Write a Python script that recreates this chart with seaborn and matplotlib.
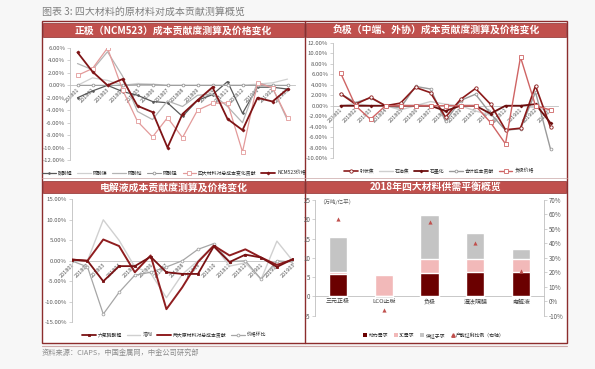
import numpy as np
import pandas as pd
import matplotlib
matplotlib.use('Agg')
import matplotlib.pyplot as plt
import seaborn as sns
from matplotlib.patches import Rectangle, Patch
from matplotlib.lines import Line2D

# ---------------- data ----------------
months = ['201801', '201802', '201803', '201804', '201805', '201806', '201807', '201808',
          '201809', '201810', '201811', '201812', '201901', '201902', '201903']

# panel 1: cathode NCM523 (%)
p1_li2co3 = [-2.0, -0.9, 0.0, -1.0, -1.6, -2.6, -2.8, -5.0, -2.4, -1.5, 0.6, -4.5, -0.3, -0.3, -0.6]
p1_niso4 = [0.0, 1.2, 0.8, 0.0, 0.3, 0.2, 0.0, 0.0, 0.0, 0.0, 0.0, 0.0, 0.2, 0.4, 1.0]
p1_coso4 = [3.5, 2.5, 5.4, 1.5, -4.2, -5.5, -2.5, -3.4, -1.6, -1.4, -3.4, -6.0, 0.5, -0.4, -5.6]
p1_mnso4 = [0.0, 0.0, 0.0, 0.0, 0.1, 0.1, 0.0, 0.0, 0.0, 0.0, 0.0, 0.0, 0.0, 0.0, 0.0]
p1_total = [1.6, 2.7, 6.0, -0.7, -5.8, -8.3, -5.2, -8.4, -4.0, -2.9, -2.8, -10.7, 0.4, -0.4, -5.3]
p1_price = [5.3, 2.2, 0.0, 1.0, -3.3, -4.3, -10.0, -4.6, -2.4, -0.3, -5.4, -7.2, -2.0, -2.6, -0.6]

# panel 2: anode (%)
p2_needle = [2.3, 0.3, 1.6, 0.0, 0.5, 3.5, 2.5, -2.2, 1.2, 3.3, 0.3, -4.6, -4.3, 3.8, -4.1]
p2_petro = [0.0, 0.4, 0.0, 0.0, -0.8, 0.0, 0.8, 0.3, 0.0, -1.0, -1.8, 0.0, 0.0, -0.4, -1.0]
p2_graph = [0.0, 0.0, 0.0, 0.0, 0.0, 0.0, 0.0, -1.0, 0.0, 0.0, -1.5, 0.0, 0.0, 0.3, -3.3]
p2_total = [2.3, 0.6, 1.5, 0.0, -0.4, 3.7, 3.2, -3.0, 1.0, 2.2, -1.5, -4.7, -4.4, 2.6, -8.3]
p2_price = [6.3, 0.0, -2.6, 0.0, 0.0, 0.0, 0.0, 0.0, 0.0, 0.0, -3.2, -7.3, 9.3, 0.0, -0.8]

# panel 3: electrolyte (%)
p3_lipf6 = [0.3, 0.0, -5.0, -1.3, -1.3, 1.0, -2.8, -3.2, -3.2, 3.5, -0.3, 1.5, 0.8, -1.5, 0.4]
p3_solvent = [0.0, 0.0, 10.0, 5.0, -1.5, -3.0, -9.0, -3.3, 0.0, 3.8, -1.3, -0.5, -4.5, 4.8, 0.0]
p3_total = [0.3, 0.0, 5.2, 3.6, -2.8, 1.3, -11.8, -6.5, -0.3, 3.7, 1.3, 2.8, 0.8, -1.0, 0.3]
p3_price = [0.0, -1.5, -13.0, -7.7, -3.5, -2.8, -1.5, 0.0, 2.8, 4.2, -0.2, 0.0, -4.5, 0.0, -0.3]

# panel 4: 2018 supply / demand balance
cats = ['三元正极', 'LCO正极', '负极', '湿法隔膜', '电解液']
demand_ev = [5.8, 0.0, 6.2, 6.4, 6.4]
demand_3c = [0.6, 5.5, 3.4, 3.35, 3.3]
oversupply = [9.0, -0.3, 11.4, 6.75, 2.5]
over_ratio = [57, -6, 54.5, 40, 21]

# ---------------- style ----------------
sns.set_theme(style='white')
plt.rcParams['font.family'] = ['Noto Sans CJK SC', 'DejaVu Sans']
plt.rcParams['axes.unicode_minus'] = False

W, H = 595, 369
fig = plt.figure(figsize=(W / 100, H / 100), dpi=100)
fig.patch.set_facecolor('#f7f7f7')

FRAME = '#8c2d2d'
HEAD = '#c0504d'
DARK = '#7f1416'
TICKC = '#595959'
AXC = '#bfbfbf'


def add_ax(x0, y0, x1, y1):
    return fig.add_axes([x0 / W, 1 - y1 / H, (x1 - x0) / W, (y1 - y0) / H])


# background / frame
bg = add_ax(0, 0, W, H)
bg.set_xlim(0, W)
bg.set_ylim(H, 0)
bg.axis('off')
bg.add_patch(Rectangle((42, 21), 525, 322, fc='white', ec=FRAME, lw=1.0))
bg.plot([305, 305], [21, 343], color=FRAME, lw=1.0)
bg.plot([42, 567], [178, 178], color='#c9a5a5', lw=0.5)
bg.plot([42, 567], [345.5, 345.5], color='#cfa9a9', lw=0.8)
for (x0, y0, w, h, t) in [(43, 23, 261, 14, '正极（NCM523）成本贡献度测算及价格变化'),
                          (306, 23, 260, 14, '负极（中端、外协）成本贡献度测算及价格变化'),
                          (43, 181, 261, 12, '电解液成本贡献度测算及价格变化'),
                          (306, 181, 260, 12, '2018年四大材料供需平衡概览')]:
    bg.add_patch(Rectangle((x0, y0), w, h, fc=HEAD, ec=FRAME, lw=0.5))
    bg.text(x0 + w / 2, y0 + h / 2 + 0.3, t, color='white', fontsize=7.1, fontweight='bold',
            ha='center', va='center')
bg.text(42, 12, '图表 3: 四大材料的原材料对成本贡献测算概览', color='#808080', fontsize=7.2,
        style='italic', ha='left', va='center')
bg.text(42, 353, '资料来源：CIAPS，中国金属网，中金公司研究部', color='#8c8c8c', fontsize=5.2,
        style='italic', ha='left', va='center')


def style_line_ax(ax, yticks, ylim, xlim):
    ax.set_facecolor('none')
    ax.set_xlim(*xlim)
    ax.set_ylim(*ylim)
    ax.set_yticks(yticks)
    ax.set_yticklabels([f'{v:.2f}%' for v in yticks])
    for s in ['top', 'right']:
        ax.spines[s].set_visible(False)
    ax.spines['left'].set_color(AXC)
    ax.spines['left'].set_linewidth(0.6)
    ax.spines['bottom'].set_position(('data', 0))
    ax.spines['bottom'].set_color(AXC)
    ax.spines['bottom'].set_linewidth(0.6)
    ax.spines['bottom'].set_zorder(1)
    ax.tick_params(axis='y', left=True, length=2, width=0.5, color=AXC, labelsize=4.3,
                   labelcolor=TICKC, pad=1.5)
    ax.tick_params(axis='x', length=0, labelsize=4.0, labelcolor=TICKC, pad=1)
    for lab in ax.get_xticklabels():
        lab.set_rotation(45)
        lab.set_ha('right')
        lab.set_rotation_mode('anchor')
    ax.set_xlabel('')
    ax.set_ylabel('')


def draw(ax, y, label, color, lw, marker=None, ms=0, mfc=None, z=2):
    kw = dict(color=color, linewidth=lw, label=label, ax=ax, zorder=z)
    if marker:
        kw.update(marker=marker, markersize=ms, markerfacecolor=mfc or color,
                  markeredgecolor=color, markeredgewidth=0.6)
    sns.lineplot(x=months, y=y, **kw)


def legend(ax, cx, cy, ncol, order):
    h, l = ax.get_legend_handles_labels()
    if ax.get_legend() is not None:
        ax.get_legend().remove()
    idx = [l.index(n) for n in order]
    fig.legend([h[i] for i in idx], [l[i] for i in idx], loc='center',
               bbox_to_anchor=(cx / W, 1 - cy / H), ncol=ncol,
               frameon=False, fontsize=3.5, handlelength=2.8, columnspacing=1.0,
               handletextpad=0.4, borderaxespad=0)


# ---------------- panel 1 ----------------
ax1 = add_ax(70, 48, 295, 160)
draw(ax1, p1_li2co3, '碳酸锂', '#595959', 0.9, 'o', 1.2)
draw(ax1, p1_niso4, '硫酸镍', '#d0d0d0', 0.9)
draw(ax1, p1_coso4, '硫酸钴', '#b4b4b4', 0.9)
draw(ax1, p1_mnso4, '硫酸锰', '#9a9a9a', 0.8, 'o', 2.0, 'white')
draw(ax1, p1_total, '四大材料对总成本变化贡献', '#e39a9a', 0.9, 's', 2.4, 'white', 3)
draw(ax1, p1_price, 'NCM523价格', DARK, 1.3, 'D', 1.5, z=4)
style_line_ax(ax1, list(range(-12, 7, 2)), (-12, 6), (-0.5, 14.5))
legend(ax1, 174, 173, 6, ['碳酸锂', '硫酸镍', '硫酸钴', '硫酸锰', '四大材料对总成本变化贡献', 'NCM523价格'])

# ---------------- panel 2 ----------------
ax2 = add_ax(333, 43, 558, 158)
draw(ax2, p2_petro, '石油焦', '#cfcfcf', 1.0)
draw(ax2, p2_total, '合计成本贡献', '#9a9a9a', 1.0, 'o', 2.0, 'white')
draw(ax2, p2_needle, '针状焦', '#8b1a1a', 1.2, 'o', 2.4, 'white', 3)
draw(ax2, p2_graph, '石墨化', '#6e0f0f', 1.3, 'D', 1.4, z=3)
draw(ax2, p2_price, '负极价格', '#cf6464', 1.0, 's', 2.4, 'white', 4)
style_line_ax(ax2, list(range(-10, 13, 2)), (-10, 12), (-0.5, 14.5))
legend(ax2, 439, 171, 5, ['针状焦', '石油焦', '石墨化', '合计成本贡献', '负极价格'])

# ---------------- panel 3 ----------------
ax3 = add_ax(71.7, 199.3, 292.7, 322.3)
draw(ax3, p3_solvent, '溶剂', '#d0d0d0', 1.0)
draw(ax3, p3_price, '价格环比', '#a6a6a6', 0.9, 'o', 2.0, 'white')
draw(ax3, p3_total, '两大原材料对总成本贡献', '#8f1d1f', 1.4, z=3)
draw(ax3, p3_lipf6, '六氟磷酸锂', '#7a1214', 1.3, 's', 1.5, z=4)
style_line_ax(ax3, list(range(-15, 16, 5)), (-15, 15), (0, 14))
legend(ax3, 174, 335, 4, ['六氟磷酸锂', '溶剂', '两大原材料对总成本贡献', '价格环比'])

# ---------------- panel 4 ----------------
ax4 = add_ax(315, 200, 544, 315.7)
ax4.set_facecolor('none')
top_grey = [e + c + o if o > 0 else o for e, c, o in zip(demand_ev, demand_3c, oversupply)]
top_pink = [e + c for e, c in zip(demand_ev, demand_3c)]
C_EV, C_3C, C_OV = '#6b0000', '#f2b9b9', '#c4c4c4'
sns.barplot(x=cats, y=top_grey, color=C_OV, saturation=1, width=0.4, errorbar=None, ax=ax4, zorder=2)
sns.barplot(x=cats, y=top_pink, color=C_3C, saturation=1, width=0.4, errorbar=None, ax=ax4, zorder=3)
sns.barplot(x=cats, y=demand_ev, color=C_EV, saturation=1, width=0.4, errorbar=None, ax=ax4, zorder=4)
ax4.set_ylim(-5, 25)
ax4.set_xlim(-0.5, 4.5)
ax4.set_yticks(list(range(-5, 26, 5)))
ax4.set_yticklabels([str(v) for v in range(-5, 26, 5)])
for s in ['top', 'right']:
    ax4.spines[s].set_visible(False)
ax4.spines['left'].set_color(AXC)
ax4.spines['left'].set_linewidth(0.6)
ax4.spines['bottom'].set_position(('data', 0))
ax4.spines['bottom'].set_color(AXC)
ax4.spines['bottom'].set_linewidth(0.6)
ax4.tick_params(axis='y', left=True, length=2, width=0.5, color=AXC, labelsize=4.5,
                labelcolor=TICKC, pad=1.2)
ax4.tick_params(axis='x', length=0, labelsize=4.3, labelcolor='#404040', pad=2)
ax4.set_xlabel('')
ax4.set_ylabel('')
ax4.text(0.02, 0.985, '（万吨/亿平）', transform=ax4.transAxes, fontsize=4.0, color=TICKC,
         ha='left', va='center')

ax4r = ax4.twinx()
ax4r.set_facecolor('none')
sns.scatterplot(x=np.arange(len(cats)), y=over_ratio, marker='^', color=HEAD, s=9,
                linewidth=0, ax=ax4r, zorder=6)
ax4r.set_ylim(-10, 70)
ax4r.set_xlim(-0.5, 4.5)
ax4r.set_yticks(list(range(-10, 71, 10)))
ax4r.set_yticklabels([f'{v}%' for v in range(-10, 71, 10)])
for s in ['top', 'left', 'bottom']:
    ax4r.spines[s].set_visible(False)
ax4r.spines['right'].set_color(AXC)
ax4r.spines['right'].set_linewidth(0.6)
ax4r.tick_params(axis='y', right=True, length=2, width=0.5, color=AXC, labelsize=4.5,
                 labelcolor=TICKC, pad=1.2)
ax4r.set_ylabel('')

h4 = [Patch(fc=C_EV, ec='none'), Patch(fc=C_3C, ec='none'), Patch(fc=C_OV, ec='none'),
      Line2D([], [], ls='none', marker='^', color=HEAD, markersize=2.5)]
l4 = ['动力需求', '3C需求', '供过于求', '产能过剩比例（右轴）']
fig.legend(h4, l4, loc='center', bbox_to_anchor=(434 / W, 1 - 335 / H), ncol=4, frameon=False,
           fontsize=3.5, handlelength=0.8, handleheight=0.8, columnspacing=1.2,
           handletextpad=0.3, borderaxespad=0)

fig.savefig('out.png', dpi=100, facecolor=fig.get_facecolor())
